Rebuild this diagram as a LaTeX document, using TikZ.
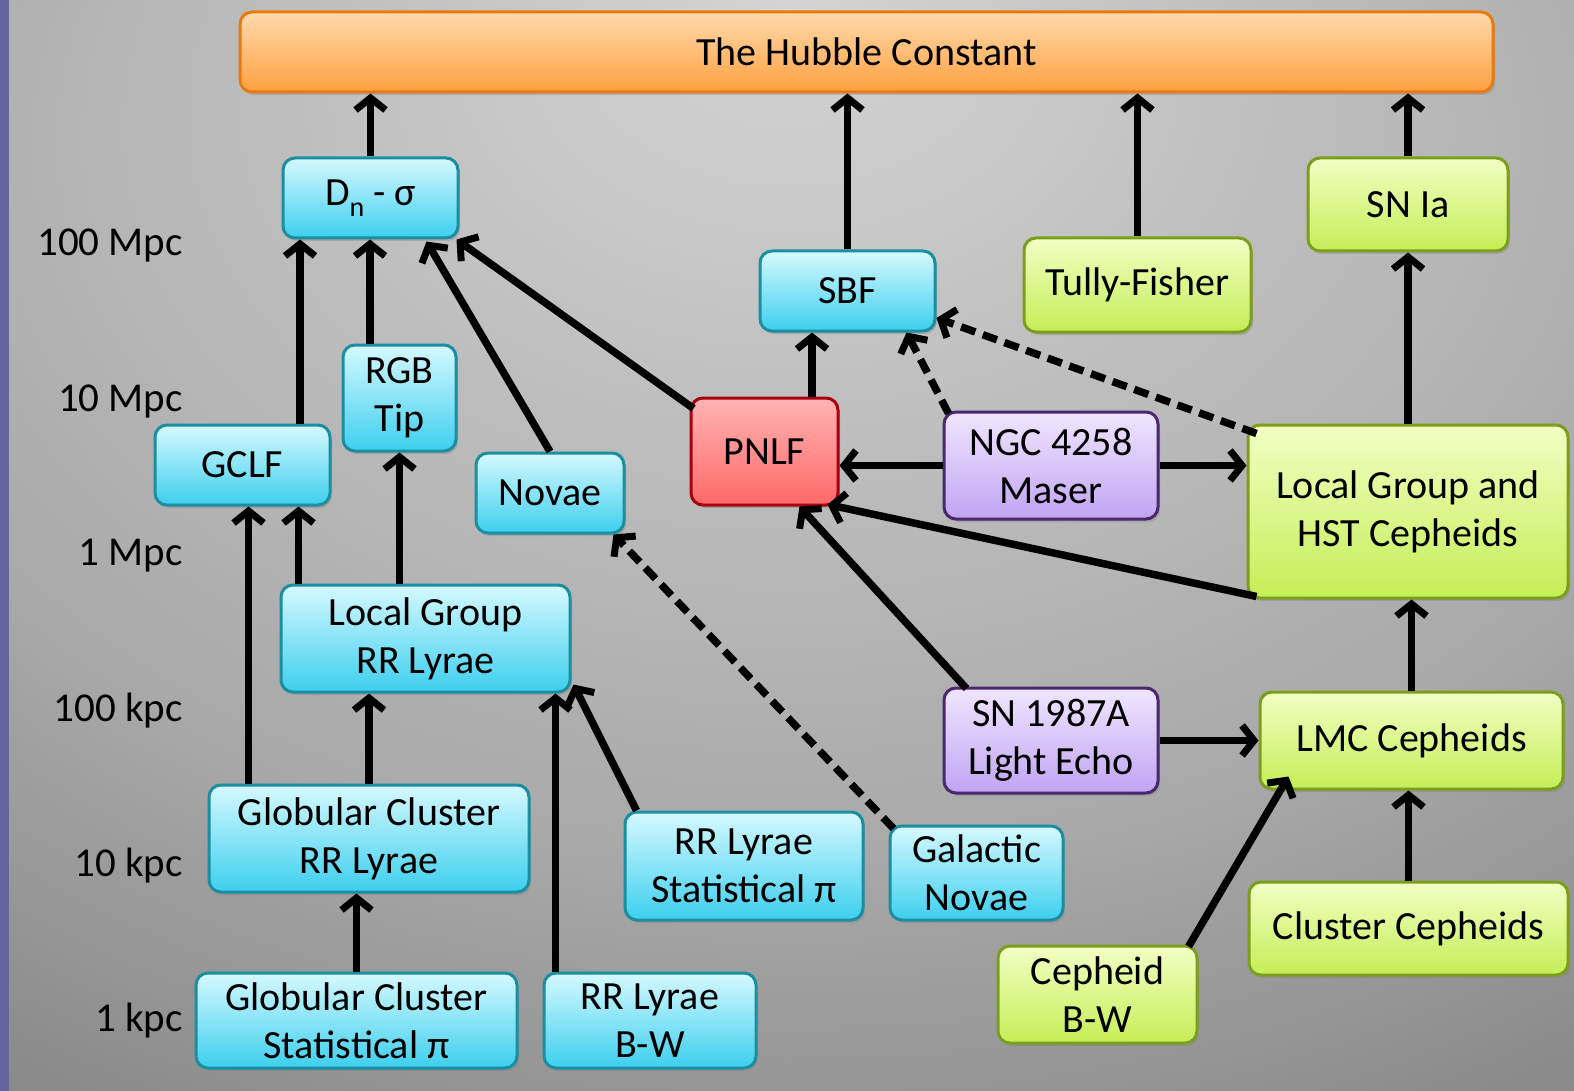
\documentclass[tikz,border=0pt]{standalone}
\usepackage{fontspec}
\setmainfont{Carlito}
\usetikzlibrary{arrows.meta,shadows,calc}
\definecolor{bgA}{HTML}{D4D4D4}
\definecolor{bgB}{HTML}{AAAAAA}
\definecolor{bgC}{HTML}{828282}
\definecolor{bgD}{HTML}{606060}
\definecolor{bgE}{HTML}{4E4E4E}
\definecolor{stripc}{HTML}{6464A0}
\definecolor{cyTop}{HTML}{D6F9FF}
\definecolor{cyBot}{HTML}{3CCFEE}
\definecolor{cyLine}{HTML}{1B8EA0}
\definecolor{grTop}{HTML}{F2FFC4}
\definecolor{grBot}{HTML}{C4EE56}
\definecolor{grLine}{HTML}{7C9E1C}
\definecolor{rdTop}{HTML}{FFB4B4}
\definecolor{rdBot}{HTML}{FF6868}
\definecolor{rdLine}{HTML}{A8000E}
\definecolor{puTop}{HTML}{F0E6FF}
\definecolor{puBot}{HTML}{C0A4F2}
\definecolor{puLine}{HTML}{4A2870}
\definecolor{orTop}{HTML}{FFDAAC}
\definecolor{orBot}{HTML}{FFA040}
\definecolor{orLine}{HTML}{E87A10}
\pgfdeclareradialshading{bgshade}{\pgfpoint{0bp}{25bp}}{color(0bp)=(bgA); color(30bp)=(bgB); color(48bp)=(bgC); color(66bp)=(bgD); color(75bp)=(bgE); color(90bp)=(bgE)}
\tikzset{
  box/.style={rounded corners=12pt, line width=3pt, align=center, inner sep=0pt,
    font=\fontsize{40}{48}\selectfont,
    drop shadow={shadow xshift=2pt, shadow yshift=-3pt, opacity=0.35}},
  cy/.style={box, draw=cyLine, top color=cyTop, bottom color=cyBot},
  gr/.style={box, draw=grLine, top color=grTop, bottom color=grBot},
  rd/.style={box, draw=rdLine, top color=rdTop, bottom color=rdBot},
  pu/.style={box, draw=puLine, top color=puTop, bottom color=puBot},
  og/.style={box, draw=orLine, top color=orTop, bottom color=orBot},
  sz/.style 2 args={minimum width=#1pt, minimum height=#2pt},
  scalelbl/.style={anchor=east, inner sep=0pt, font=\fontsize{41}{44}\selectfont},
  arr/.style={line width=7.5pt, -{Straight Barb[length=12pt,width=30pt,line width=7pt]}},
  darr/.style={arr, dash pattern=on 15pt off 8pt},
}
\begin{document}
\begin{tikzpicture}[x=1pt,y=-1pt]
\useasboundingbox (0,0) rectangle (1574,1091);
\shade[shading=bgshade] (0,0) rectangle (1574,1091);
\fill[stripc] (0,0) rectangle (9,1091);

% scale labels
\node[scalelbl] (s1) at (183,246) {100 Mpc};
\node[scalelbl] (s2) at (183,401) {10 Mpc};
\node[scalelbl] (s3) at (183,556) {1 Mpc};
\node[scalelbl] (s4) at (183,711) {100 kpc};
\node[scalelbl] (s5) at (183,866) {10 kpc};
\node[scalelbl] (s6) at (183,1021) {1 kpc};

% nodes
\node[og, sz={1253}{80}, font=\fontsize{40}{42}\selectfont] (hub) at (866.5,52) {The Hubble Constant};
\node[cy, sz={175}{80}] (dn) at (370.5,198) {D\raisebox{-0.28em}{\fontsize{28}{28}\selectfont n} - σ};
\node[cy, sz={175}{80}] (sbf) at (847.5,291) {SBF};
\node[gr, sz={227}{94}] (tf) at (1137.5,285) {Tully-Fisher};
\node[gr, sz={200}{93}] (snia) at (1408,204.5) {SN Ia};
\node[cy, sz={113}{106}] (rgb) at (399.5,398) {RGB\\Tip};
\node[cy, sz={175}{80}] (gclf) at (242.5,465) {GCLF};
\node[cy, sz={148}{80}] (novae) at (550,493) {Novae};
\node[rd, sz={147}{107}] (pnlf) at (764.5,451.5) {PNLF};
\node[pu, sz={214}{107}] (ngc) at (1051,465.5) {NGC 4258\\Maser};
\node[gr, sz={320}{173}] (lghst) at (1408,511.5) {Local Group and\\HST Cepheids};
\node[cy, sz={289}{107}] (lgrr) at (425.5,638.5) {Local Group\\RR Lyrae};
\node[pu, sz={214}{105}] (sn87) at (1051,740.5) {SN 1987A\\Light Echo};
\node[gr, sz={303}{97}] (lmc) at (1411.5,740.5) {LMC Cepheids};
\node[cy, sz={320}{107}] (gcrr) at (369,838.5) {Globular Cluster\\RR Lyrae};
\node[cy, sz={238}{108}] (rrstat) at (744,866) {RR Lyrae\\Statistical π};
\node[cy, sz={173}{94}] (galnov) at (976.5,873) {Galactic\\Novae};
\node[gr, sz={319}{93}] (clceph) at (1408.5,928.5) {Cluster Cepheids};
\node[gr, sz={199}{97}] (cephbw) at (1097.5,994.5) {Cepheid\\B-W};
\node[cy, sz={321}{95}] (gcstat) at (356.5,1020.5) {Globular Cluster\\Statistical π};
\node[cy, sz={212}{95}] (rrbw) at (650,1020.5) {RR Lyrae\\B-W};

% connectors to Hubble constant
\draw[arr] (dn.north) -- (dn.north |- hub.south);
\draw[arr] (sbf.north) -- (sbf.north |- hub.south);
\draw[arr] (tf.north) -- (tf.north |- hub.south);
\draw[arr] (snia.north) -- (snia.north |- hub.south);

% into Dn-sigma
\draw[arr] ([shift={(57.5,0)}]gclf.north) -- ([shift={(57.5,0)}]gclf.north |- dn.south);
\draw[arr] ([shift={(-29.5,0)}]rgb.north) -- ([shift={(-29.5,0)}]rgb.north |- dn.south);
\draw[arr] (novae.north) -- ([shift={(-33,2)}]dn.south east);
\draw[arr] ([shift={(4,12)}]pnlf.north west) -- ([shift={(-3,0)}]dn.south east);

% into SBF
\draw[arr] ([shift={(47.5,0)}]pnlf.north) -- ([shift={(47.5,0)}]pnlf.north |- sbf.south);
\draw[darr] ([shift={(6,3)}]ngc.north west) -- ([shift={(-30,0)}]sbf.south east);
\draw[darr] ([shift={(10,10)}]lghst.north west) -- ([shift={(0,27)}]sbf.east);

% maser
\draw[arr] (ngc.west) -- (ngc.west -| pnlf.east);
\draw[arr] (ngc.east) -- (ngc.east -| lghst.west);

% into PNLF
\draw[arr] ([shift={(10,-3)}]lghst.south west) -- ([shift={(-12,-2)}]pnlf.south east);
\draw[arr] ([shift={(24,2)}]sn87.north west) -- ([shift={(35,0)}]pnlf.south);

% Cepheid chain
\draw[arr] (lghst.north) -- (lghst.north |- snia.south);
\draw[arr] (lmc.north) -- (lmc.north |- lghst.south);
\draw[arr] (clceph.north) -- (clceph.north |- lmc.south);
\draw[arr] ([shift={(-10,2)}]cephbw.north east) -- ([shift={(30,-14)}]lmc.south west);
\draw[arr] (sn87.east) -- (sn87.east -| lmc.west);

% novae
\draw[darr] ([shift={(5,4)}]galnov.north west) -- ([shift={(-12,0)}]novae.south east);

% RR Lyrae / globular clusters
\draw[arr] ([shift={(19,0)}]lgrr.north west) -- ([shift={(19,0)}]lgrr.north west |- gclf.south);
\draw[arr] (rgb.south |- lgrr.north) -- (rgb.south);
\draw[arr] ([shift={(41,0)}]gcrr.north west) -- ([shift={(41,0)}]gcrr.north west |- gclf.south);
\draw[arr] (gcrr.north) -- (gcrr.north |- lgrr.south);
\draw[arr] (gcstat.north) -- (gcstat.north |- gcrr.south);
\draw[arr] ([shift={(13,0)}]rrbw.north west) -- ([shift={(13,0)}]rrbw.north west |- lgrr.south);
\draw[arr] ([shift={(13,0)}]rrstat.north west) -- ([shift={(2,-9)}]lgrr.south east);
\end{tikzpicture}
\end{document}
